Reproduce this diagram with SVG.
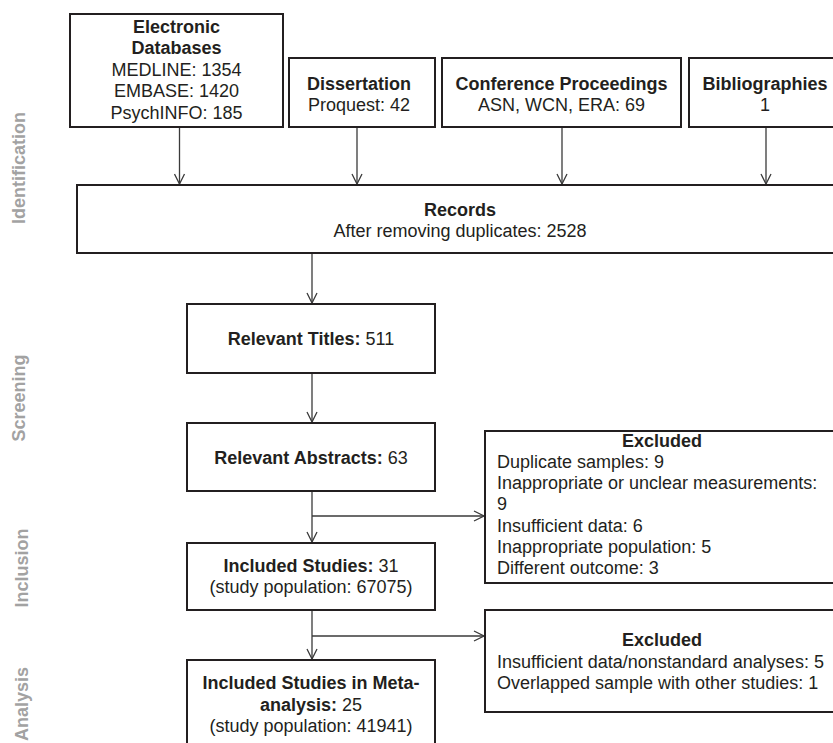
<svg xmlns="http://www.w3.org/2000/svg" width="833" height="743" viewBox="0 0 833 743">
<style>
text{font-family:"Liberation Sans",Arial,sans-serif;font-size:18px;fill:#231f20}
.b{font-weight:bold}
.c{text-anchor:middle}
.side{font-weight:bold;fill:#a2a2a2;text-anchor:middle}
.box{fill:#fff;stroke:#231f20;stroke-width:2}
.con path{fill:none;stroke:#3a3a3a;stroke-width:1.3}
</style>
<defs>
<marker id="ah" viewBox="-11 -6 12 12" refX="0" refY="0" markerWidth="12" markerHeight="12" markerUnits="userSpaceOnUse" orient="auto">
<path d="M-10,-5 L0,0 L-10,5" fill="none" stroke="#3a3a3a" stroke-width="1.3"/>
</marker>
</defs>
<rect width="833" height="743" fill="#fff"/>
<g id="side-labels">
<text class="side" transform="translate(25,168) rotate(-90)">Identification</text>
<text class="side" transform="translate(25,398) rotate(-90)">Screening</text>
<text class="side" transform="translate(28,568) rotate(-90)">Inclusion</text>
<text class="side" transform="translate(28,704) rotate(-90)">Analysis</text>
</g>
<g class="con" id="connectors">
<path d="M179.5,128 V184" marker-end="url(#ah)"/>
<path d="M357,128 V184" marker-end="url(#ah)"/>
<path d="M562,128 V184" marker-end="url(#ah)"/>
<path d="M766,128 V184" marker-end="url(#ah)"/>
<path d="M312,254 V303" marker-end="url(#ah)"/>
<path d="M312,374 V422" marker-end="url(#ah)"/>
<path d="M312,492 V542" marker-end="url(#ah)"/>
<path d="M312,516 H484" marker-end="url(#ah)"/>
<path d="M312,611 V659" marker-end="url(#ah)"/>
<path d="M312,636 H484" marker-end="url(#ah)"/>
</g>
<g id="electronic">
<rect class="box" x="70" y="14" width="213" height="113"/>
<text class="c b" x="176.5" y="32.5">Electronic</text>
<text class="c b" x="176.5" y="54">Databases</text>
<text class="c" x="176.5" y="75.5">MEDLINE: 1354</text>
<text class="c" x="176.5" y="97">EMBASE: 1420</text>
<text class="c" x="176.5" y="118.5">PsychINFO: 185</text>
</g>
<g id="dissertation">
<rect class="box" x="289" y="58" width="146" height="69"/>
<text class="c b" x="359" y="89.5">Dissertation</text>
<text class="c" x="359" y="110.5">Proquest: 42</text>
</g>
<g id="conference">
<rect class="box" x="442" y="58" width="239" height="69"/>
<text class="c b" x="561.5" y="89.5">Conference Proceedings</text>
<text class="c" x="561.5" y="110.5">ASN, WCN, ERA: 69</text>
</g>
<g id="bibliographies">
<rect class="box" x="689" y="58" width="152" height="69"/>
<text class="c b" x="765" y="89.5">Bibliographies</text>
<text class="c" x="765" y="110.5">1</text>
</g>
<g id="records">
<rect class="box" x="77" y="185" width="766" height="68"/>
<text class="c b" x="460" y="215.5">Records</text>
<text class="c" x="460" y="237">After removing duplicates: 2528</text>
</g>
<g id="titles">
<rect class="box" x="187" y="304" width="248" height="69"/>
<text class="c" x="311" y="345"><tspan class="b">Relevant Titles:</tspan> 511</text>
</g>
<g id="abstracts">
<rect class="box" x="187" y="423" width="248" height="68"/>
<text class="c" x="311" y="463.5"><tspan class="b">Relevant Abstracts:</tspan> 63</text>
</g>
<g id="excluded1">
<rect class="box" x="485" y="431" width="356" height="152"/>
<text class="c b" x="662" y="446.5">Excluded</text>
<text x="497" y="467.8">Duplicate samples: 9</text>
<text x="497" y="489.1">Inappropriate or unclear measurements:</text>
<text x="497" y="510.4">9</text>
<text x="497" y="531.7">Insufficient data: 6</text>
<text x="497" y="553">Inappropriate population: 5</text>
<text x="497" y="574.3">Different outcome: 3</text>
</g>
<g id="included">
<rect class="box" x="187" y="543" width="248" height="67"/>
<text class="c" x="311" y="571.5"><tspan class="b">Included Studies:</tspan> 31</text>
<text class="c" x="311" y="592.5">(study population: 67075)</text>
</g>
<g id="excluded2">
<rect class="box" x="485" y="610" width="356" height="102"/>
<text class="c b" x="662" y="646">Excluded</text>
<text x="497" y="667.5">Insufficient data/nonstandard analyses: 5</text>
<text x="497" y="689">Overlapped sample with other studies: 1</text>
</g>
<g id="meta">
<rect class="box" x="187" y="660" width="248" height="100"/>
<text class="c b" x="311" y="689">Included Studies in Meta-</text>
<text class="c" x="311" y="710.5"><tspan class="b">analysis:</tspan> 25</text>
<text class="c" x="311" y="732">(study population: 41941)</text>
</g>
</svg>
